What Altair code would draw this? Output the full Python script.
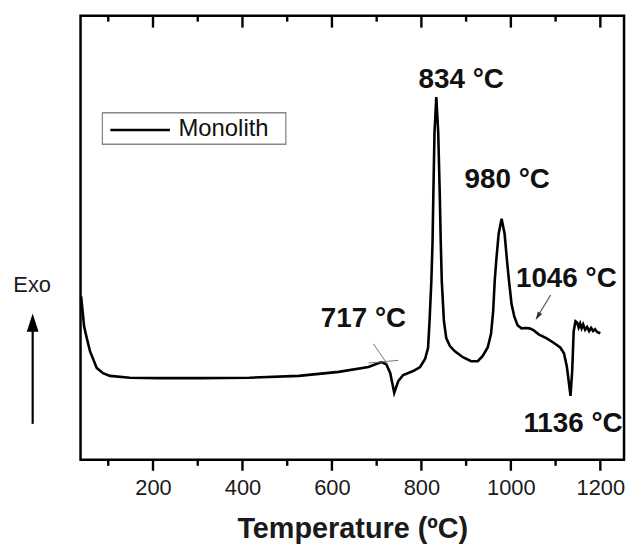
import altair as alt
import pandas as pd

# ---- DTA curve (temperature in °C, signal in arbitrary units, exo up) ----
temp = [39.3, 42.7, 46.0, 52.0, 59.3, 74.2, 88.2, 103.8, 148.2, 214.9, 303.8, 415.0,
        526.0, 615.0, 681.6, 710.4, 721.6, 730.4, 739.3, 748.2, 759.3, 781.6, 797.1,
        808.2, 814.9, 818.2, 822.2, 824.9, 826.7, 829.3, 833.3, 837.6, 841.1, 843.3,
        845.6, 850.4, 855.6, 863.8, 874.2, 892.7, 911.1, 926.0, 937.1, 948.2, 955.6,
        960.4, 963.8, 967.1, 972.7, 979.3, 986.0, 991.6, 996.0, 1001.6, 1007.6, 1014.9,
        1023.8, 1033.3, 1041.6, 1050.4, 1063.1, 1079.3, 1096.4, 1110.4, 1118.7, 1125.0,
        1129.3, 1133.3, 1137.1, 1140.4, 1144.4, 1148.2, 1151.6, 1154.9, 1158.2, 1161.6,
        1166.0, 1170.4, 1174.9, 1179.3, 1183.8, 1188.2, 1192.7, 1200.0]
signal = [36.8, 33.4, 30.0, 27.4, 24.4, 20.7, 19.5, 18.9, 18.5, 18.4, 18.4, 18.5,
          18.9, 19.8, 20.9, 22.0, 21.5, 19.5, 15.1, 17.7, 19.1, 20.0, 20.9,
          22.7, 25.2, 31.2, 40.1, 49.0, 59.6, 73.7, 81.7, 73.7, 59.6, 49.0,
          40.1, 31.2, 27.4, 25.6, 24.5, 23.1, 22.2, 22.2, 23.4, 25.3, 28.3,
          33.4, 40.1, 44.6, 50.9, 54.3, 50.9, 44.6, 40.1, 35.0, 32.3, 30.3,
          29.6, 29.7, 29.6, 29.2, 28.2, 27.4, 26.3, 25.3, 24.0, 21.1,
          17.7, 14.4, 20.0, 28.9, 31.2, 30.9, 29.8, 30.7, 29.6, 30.5,
          29.3, 29.9, 29.0, 29.7, 29.0, 29.4, 28.8, 28.5]
series = ["Monolith"] * len(temp)
legend_labels = ["Monolith"]

# ---- peak annotations ----
ann_text = ["834 °C", "980 °C", "1046 °C", "717 °C", "1136 °C"]
ann_x = [889.0, 992.0, 1124.0, 670.4, 1139.0]
ann_y = [85.4, 62.9, 40.7, 31.7, 8.1]

# ---- thin gray tangent lines at the 717 °C onset ----
tan_x1 = [692.7, 681.6]
tan_y1 = [26.1, 21.8]
tan_x2 = [724.4, 748.2]
tan_y2 = [21.5, 22.4]

# ---- 1046 °C pointer ----
ptr_x1 = [1088.9]
ptr_y1 = [37.1]
ptr_x2 = [1058.0]
ptr_y2 = [32.0]
ptr_head_x = [1060.2]
ptr_head_y = [32.3]

# ---- "Exo" arrow on the left ----
exo_label = ["Exo"]
exo_label_x = [-70.2]
exo_label_y = [39.4]
exo_x = [-69.0]
exo_y1 = [8.1]
exo_y2 = [30.0]
exo_head_y = [30.9]

# ---- axis ticks ----
major_ticks = [200, 400, 600, 800, 1000, 1200]
minor_ticks = [100, 300, 500, 700, 900, 1100]

FONT = "Liberation Sans"
X_DOMAIN = [38, 1253]
Y_DOMAIN = [0, 100]
W, H = 547, 447
PX = (Y_DOMAIN[1] - Y_DOMAIN[0]) / H  # signal units per pixel

xscale = alt.Scale(domain=X_DOMAIN, nice=False, zero=False)
yscale = alt.Scale(domain=Y_DOMAIN, nice=False, zero=False)

xaxis = alt.Axis(
    title="Temperature (ºC)",
    values=major_ticks,
    format="d",
    tickSize=11,
    tickOpacity=0,
    domain=False,
    grid=False,
    labelFont=FONT,
    labelFontSize=22,
    labelColor="#1a1a1a",
    labelPadding=7,
    labelOverlap=False,
    titleFont=FONT,
    titleFontSize=29,
    titleFontWeight="bold",
    titleColor="#1a1a1a",
    titlePadding=16,
)


def X(field):
    return alt.X(field, type="quantitative", scale=xscale, axis=xaxis)


def Y(field):
    return alt.Y(field, type="quantitative", scale=yscale, axis=None)


curve_df = pd.DataFrame({"T": temp, "S": signal, "series": series})
line = alt.Chart(curve_df).mark_line(strokeWidth=2.6, color="black").encode(
    x=X("T"),
    y=Y("S"),
    detail="series:N",
)

ann_df = pd.DataFrame({"x": ann_x, "y": ann_y, "t": ann_text})
ann = alt.Chart(ann_df).mark_text(
    font=FONT, fontSize=28, fontWeight="bold", color="#111111", align="center", baseline="middle"
).encode(x=X("x"), y=Y("y"), text="t:N")

tan_df = pd.DataFrame({"x": tan_x1, "y": tan_y1, "x2": tan_x2, "y2": tan_y2})
tangents = alt.Chart(tan_df).mark_rule(color="#777777", strokeWidth=1).encode(
    x=X("x"), y=Y("y"), x2="x2:Q", y2="y2:Q"
)

ptr_df = pd.DataFrame({"x": ptr_x1, "y": ptr_y1, "x2": ptr_x2, "y2": ptr_y2})
ptr = alt.Chart(ptr_df).mark_rule(color="#555555", strokeWidth=1.2).encode(
    x=X("x"), y=Y("y"), x2="x2:Q", y2="y2:Q"
)
ptr_head_df = pd.DataFrame({"x": ptr_head_x, "y": ptr_head_y})
ptr_head = alt.Chart(ptr_head_df).mark_point(
    shape="M0,-1L0.6,1L-0.6,1Z", size=70, filled=True, color="#333333", opacity=1, angle=211
).encode(x=X("x"), y=Y("y"))

exo_txt_df = pd.DataFrame({"x": exo_label_x, "y": exo_label_y, "t": exo_label})
exo_txt = alt.Chart(exo_txt_df).mark_text(
    font=FONT, fontSize=22, color="#1a1a1a", align="center", baseline="middle"
).encode(x=X("x"), y=Y("y"), text="t:N")

exo_df = pd.DataFrame({"x": exo_x, "y": exo_y1, "y2": exo_y2})
exo_line = alt.Chart(exo_df).mark_rule(color="black", strokeWidth=2.2).encode(
    x=X("x"), y=Y("y"), y2="y2:Q"
)
exo_head_df = pd.DataFrame({"x": exo_x, "y": exo_head_y})
exo_head = alt.Chart(exo_head_df).mark_point(
    shape="M0,-1L0.65,1L-0.65,1Z", size=335, filled=True, color="black", opacity=1
).encode(x=X("x"), y=Y("y"))

# frame ticks (inward on top, outward on bottom) drawn through the scales
tick_rows = []
for v in major_ticks:
    tick_rows.append({"tx": v, "ty": Y_DOMAIN[1], "ty2": Y_DOMAIN[1] - 12 * PX})
    tick_rows.append({"tx": v, "ty": Y_DOMAIN[0], "ty2": Y_DOMAIN[0] - 11 * PX})
for v in minor_ticks:
    tick_rows.append({"tx": v, "ty": Y_DOMAIN[1], "ty2": Y_DOMAIN[1] - 6 * PX})
    tick_rows.append({"tx": v, "ty": Y_DOMAIN[0], "ty2": Y_DOMAIN[0] - 6 * PX})
ticks_df = pd.DataFrame(tick_rows)
frame_ticks = alt.Chart(ticks_df).mark_rule(color="black", strokeWidth=2.4).encode(
    x=X("tx"), y=Y("ty"), y2="ty2:Q"
)

# legend box (drawn in panel pixels)
leg_df = pd.DataFrame({"label": legend_labels})
leg_box = alt.Chart(leg_df).mark_rect(
    fill="white", stroke="#888888", strokeWidth=1.3
).encode(x=alt.value(22), x2=alt.value(206.6), y=alt.value(97.7), y2=alt.value(129.4))
leg_line = alt.Chart(leg_df).mark_rule(color="black", strokeWidth=2.5).encode(
    x=alt.value(30), x2=alt.value(90), y=alt.value(115)
)
leg_text = alt.Chart(leg_df).mark_text(
    font=FONT, fontSize=24, color="#111111", align="left", baseline="middle"
).encode(x=alt.value(98.6), y=alt.value(114.5), text="label:N")

chart = alt.layer(
    line, tangents, ptr, ptr_head, ann, exo_txt, exo_line, exo_head,
    leg_box, leg_line, leg_text, frame_ticks
).properties(
    width=W,
    height=H,
    padding={"left": 5, "top": 4, "right": 5, "bottom": 5},
).configure(
    background="white",
    view=alt.ViewConfig(stroke="black", strokeWidth=2.5),
)

chart.save("out.html", embed_options={"renderer": "svg", "actions": False})
